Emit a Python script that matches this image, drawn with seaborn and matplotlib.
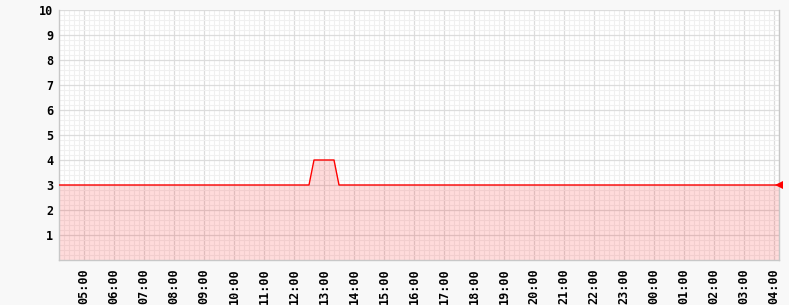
import matplotlib
matplotlib.use("Agg")
import matplotlib.pyplot as plt
import matplotlib.dates as mdates
import seaborn as sns
import pandas as pd
import numpy as np
from matplotlib.ticker import MultipleLocator

# Data
times = ["2024-01-01 04:10", "2024-01-01 12:30", "2024-01-01 12:40",
         "2024-01-01 13:20", "2024-01-01 13:30", "2024-01-02 04:10"]
values = [3, 3, 4, 4, 3, 3]
tick_labels_start = "2024-01-01 05:00"
tick_labels_end = "2024-01-02 04:00"
y_ticks = [1, 2, 3, 4, 5, 6, 7, 8, 9, 10]

df = pd.DataFrame({"time": pd.to_datetime(times), "value": values})

sns.set_theme(style="white")
plt.rcParams["font.family"] = ["DejaVu Sans Mono"]

fig = plt.figure(figsize=(7.89, 3.05), dpi=100, facecolor="#F8F8F8")
ax = fig.add_axes([59 / 789, 45 / 305, 720 / 789, 250 / 305])
ax.set_facecolor("white")

x0 = df["time"].iloc[0]
x1 = df["time"].iloc[-1]
ax.set_xlim(x0, x1)
ax.set_ylim(0, 10)

# grid
ax.xaxis.set_major_locator(mdates.HourLocator())
ax.xaxis.set_minor_locator(mdates.MinuteLocator(byminute=[0, 10, 20, 30, 40, 50]))
ax.xaxis.set_major_formatter(mdates.DateFormatter("%H:%M"))
ax.yaxis.set_major_locator(MultipleLocator(1))
ax.yaxis.set_minor_locator(MultipleLocator(0.2))
ax.grid(which="minor", color="#F0F0F0", linewidth=0.8)
ax.grid(which="major", color="#DCDCDC", linewidth=0.9)
ax.set_axisbelow(True)

ax.fill_between(df["time"], df["value"], 0, color="#FF0000", alpha=0.14,
                linewidth=0, zorder=2)
sns.lineplot(data=df, x="time", y="value", ax=ax, color="#FF0000",
             linewidth=1.0, zorder=3)
ax.plot([x1], [values[-1]], marker="<", color="#FF0000", markersize=6,
        clip_on=False, zorder=5, markeredgewidth=0)

ax.set_yticks(y_ticks)
ax.set_yticklabels([str(v) for v in y_ticks])
ax.set_xlabel("")
ax.set_ylabel("")

for s in ax.spines.values():
    s.set_color("#C8C8C8")
    s.set_linewidth(1.0)
ax.spines["top"].set_visible(False)

ax.tick_params(axis="y", which="both", length=0, pad=4, labelsize=8.5,
               labelcolor="black")
ax.tick_params(axis="x", which="major", length=3, color="#C8C8C8", pad=3,
               labelsize=8.5, labelcolor="black", labelrotation=90)
ax.tick_params(axis="x", which="minor", length=0)
for lab in ax.get_xticklabels() + ax.get_yticklabels():
    lab.set_fontweight("bold")

fig.savefig("out.png", dpi=100, facecolor=fig.get_facecolor())
